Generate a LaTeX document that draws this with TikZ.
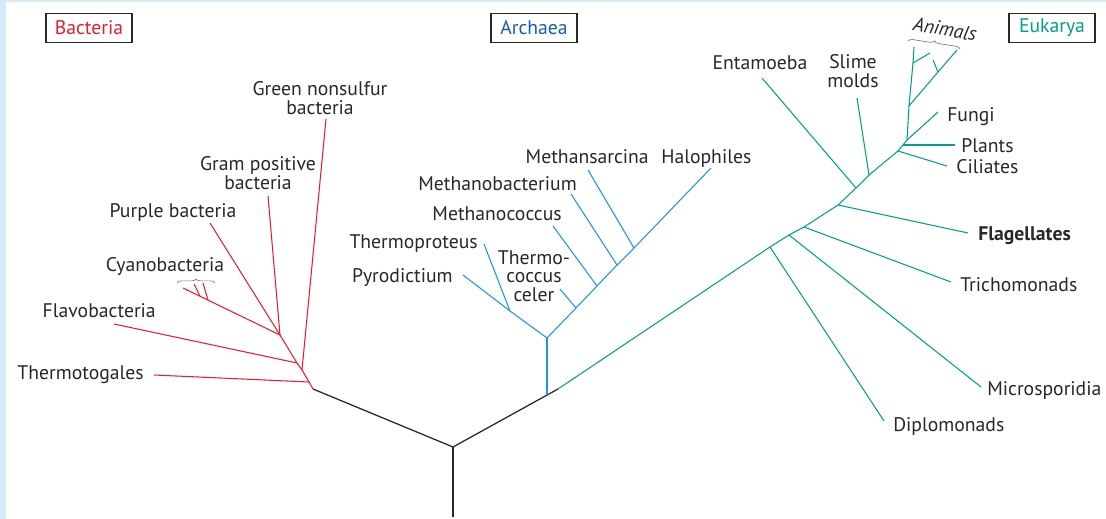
\documentclass[tikz,border=0pt]{standalone}
\usepackage{fontspec}
\setmainfont{PT Sans}
\usetikzlibrary{decorations.pathreplacing}

\definecolor{bacred}{RGB}{228,30,46}
\definecolor{arcblue}{RGB}{27,150,222}
\definecolor{arctext}{RGB}{22,95,175}
\definecolor{euktea}{RGB}{0,160,138}
\definecolor{txtgray}{RGB}{40,40,40}
\definecolor{frameblue}{RGB}{214,234,248}

\begin{document}
\begin{tikzpicture}[
    x=0.025cm, y=-0.025cm,
    % Domain title boxes
    dom/.style={
        draw=txtgray, line width=0.8pt, minimum width=2.15cm,
        minimum height=0.74cm, inner sep=0pt,
        font=\fontsize{14}{13.2}\selectfont
    },
    % Leaf labels
    lab/.style={
        text=txtgray, inner sep=0pt, align=center,
        font=\fontsize{14}{13.2}\selectfont
    },
    tronco/.style={draw=txtgray, line width=0.9pt, line join=round},
    lbac/.style={draw=bacred, line width=0.75pt, line join=round},
    larc/.style={draw=arcblue, line width=0.75pt, line join=round},
    leuk/.style={draw=euktea, line width=0.75pt, line join=round},
    chave/.style={draw=gray, line width=0.5pt, decorate,
        decoration={brace, amplitude=3pt}}
]

% ---- BACKGROUND ----
\fill[frameblue] (0,0) rectangle (1106,519);
\fill[white] (6,2) rectangle (1106,519);
\useasboundingbox (0,0) rectangle (1106,519);

% ---- DOMAIN TITLES ----
\node[dom, text=bacred]  (t_bac) at (89,28)   {Bacteria};
\node[dom, text=arctext] (t_arc) at (534,28)  {Archaea};
\node[dom, text=euktea]  (t_euk) at (1052,28) {Eukarya};

% ---- ROOT ----
\coordinate (base)    at (453,517);
\coordinate (raiz)    at (453,447);
\coordinate (bif_bac) at (313,389);
\coordinate (bif_arc) at (547,395);
\coordinate (bif_euk) at (558,389);

\draw[tronco] (base) -- (raiz);
\draw[tronco] (bif_bac) -- (raiz) -- (bif_euk);

% ---- BACTERIA ----
\coordinate (b1) at (309,382);
\coordinate (b2) at (302,370);
\coordinate (b3) at (297,363);
\coordinate (b4) at (280,335);
\coordinate (c1) at (208,300);
\coordinate (c2) at (200,296);

\draw[lbac] (bif_bac) -- (b1) -- (b2) -- (b3) -- (b4);

\node[lab, anchor=mid east] (l_thermotogales) at (144,376) {Thermotogales};
\node[lab, anchor=mid east] (l_flavo)  at (156,314) {Flavobacteria};
\node[lab]                  (l_cyano)  at (165,267) {Cyanobacteria};
\node[lab]                  (l_purple) at (173,212) {Purple bacteria};
\node[lab]                  (l_gram)   at (258,173) {Gram positive\\bacteria};
\node[lab]                  (l_green)  at (320,98)  {Green nonsulfur\\bacteria};

\coordinate (f_thermotogales) at (154,375);
\coordinate (f_flavo)  at (114,324);
\coordinate (f_cyano)  at (183,288);
\coordinate (f_cyano1) at (203,283);
\coordinate (f_cyano2) at (194,284);
\coordinate (f_purple) at (210,223);
\coordinate (f_gram)   at (268,196);
\coordinate (f_green)  at (326,119);

\draw[lbac] (b1) -- (f_thermotogales);
\draw[lbac] (b3) -- (f_flavo);
\draw[lbac] (b2) -- (f_green);
\draw[lbac] (b4) -- (f_gram);
\draw[lbac] (b4) -- (f_purple);
\draw[lbac] (b4) -- (f_cyano);
\draw[lbac] (c1) -- (f_cyano1);
\draw[lbac] (c2) -- (f_cyano2);

\coordinate (ch_c1) at (177,283);
\coordinate (ch_c2) at (215,283);
\draw[chave] (ch_c1) -- (ch_c2);

% ---- ARCHAEA ----
\coordinate (a0) at (547,338);
\coordinate (a1) at (510,311);
\coordinate (a2) at (576,308);
\coordinate (a3) at (597,286);
\coordinate (a4) at (617,265);
\coordinate (a5) at (634,248);

\node[lab, anchor=mid east] (l_pyro)     at (453,279) {Pyrodictium};
\node[lab, anchor=mid east] (l_tproteus) at (478,245) {Thermoproteus};
\node[lab]                  (l_tcoccus)  at (534,276) {Thermo-\\coccus\\celer};
\node[lab, anchor=mid east] (l_mcoccus)  at (562,217) {Methanococcus};
\node[lab, anchor=mid east] (l_mbact)    at (577,187) {Methanobacterium};
\node[lab, anchor=mid east] (l_msarc)    at (649,160) {Methansarcina};
\node[lab, anchor=mid west] (l_halo)     at (661,160) {Halophiles};

\coordinate (f_pyro)     at (463,275);
\coordinate (f_tproteus) at (484,244);
\coordinate (f_tcoccus)  at (560,289);
\coordinate (f_mcoccus)  at (553,226);
\coordinate (f_mbact)    at (571,194);
\coordinate (f_msarc)    at (588,170);
\coordinate (f_halo)     at (711,168);

\draw[larc] (bif_arc) -- (a0);
\draw[larc] (a0) -- (a1) -- (f_pyro);
\draw[larc] (a1) -- (f_tproteus);
\draw[larc] (a0) -- (a2) -- (a3) -- (a4) -- (a5) -- (f_halo);
\draw[larc] (a2) -- (f_tcoccus);
\draw[larc] (a3) -- (f_mcoccus);
\draw[larc] (a4) -- (f_mbact);
\draw[larc] (a5) -- (f_msarc);

% ---- EUKARYA ----
\coordinate (e1)  at (770,247);
\coordinate (e2)  at (789,235);
\coordinate (e3)  at (804,227);
\coordinate (e4)  at (838,205);
\coordinate (e5)  at (856,188);
\coordinate (e6)  at (869,175);
\coordinate (e7)  at (898,151);
\coordinate (e8)  at (903,145);
\coordinate (e9)  at (907,140);
\coordinate (e10) at (909,106);
\coordinate (e11) at (913,63);
\coordinate (e12) at (938,72);

\node[lab, anchor=mid west] (l_diplo)   at (893,428) {Diplomonads};
\node[lab, anchor=mid west] (l_micro)   at (987,392) {Microsporidia};
\node[lab, anchor=mid west] (l_tricho)  at (960,288) {Trichomonads};
\node[lab, anchor=mid west] (l_flag)    at (978,237) {\bfseries Flagellates};
\node[lab]                  (l_entam)   at (760,63)  {Entamoeba};
\node[lab]                  (l_slime)   at (853,71)  {Slime\\molds};
\node[lab, anchor=mid west] (l_ciliat)  at (956,170) {Ciliates};
\node[lab, anchor=mid west] (l_plants)  at (961,149) {Plants};
\node[lab, anchor=mid west] (l_fungi)   at (947,118) {Fungi};
\node[lab, rotate=-10]      (l_animals) at (945,29)  {\itshape Animals};

\coordinate (f_diplo)  at (884,421);
\coordinate (f_micro)  at (981,387);
\coordinate (f_tricho) at (951,282);
\coordinate (f_flag)   at (968,233);
\coordinate (f_entam)  at (762,78);
\coordinate (f_slime)  at (857,98);
\coordinate (f_ciliat) at (947,166);
\coordinate (f_plants) at (955,145);
\coordinate (f_fungi)  at (938,112);
\coordinate (f_anim1)  at (914,47);
\coordinate (f_anim2)  at (930,53);
\coordinate (f_anim3)  at (933,60);
\coordinate (f_anim4)  at (957,50);

\draw[leuk] (bif_euk) -- (e1) -- (e2) -- (e3) -- (e4) -- (e5) -- (e6)
    -- (e7) -- (e8) -- (e9) -- (e10) -- (e11) -- (f_anim1);
\draw[leuk] (e1) -- (f_diplo);
\draw[leuk] (e2) -- (f_micro);
\draw[leuk] (e3) -- (f_tricho);
\draw[leuk] (e4) -- (f_flag);
\draw[leuk] (e5) -- (f_entam);
\draw[leuk] (e6) -- (f_slime);
\draw[leuk] (e7) -- (f_ciliat);
\draw[leuk] (e8) -- (f_plants);
\draw[leuk] (e9) -- (f_fungi);
\draw[leuk] (e11) -- (f_anim2);
\draw[leuk] (e10) -- (e12) -- (f_anim4);
\draw[leuk] (e12) -- (f_anim3);

\coordinate (ch_a1) at (908,41);
\coordinate (ch_a2) at (960,49);
\draw[chave] (ch_a1) -- (ch_a2);

\end{tikzpicture}
\end{document}
